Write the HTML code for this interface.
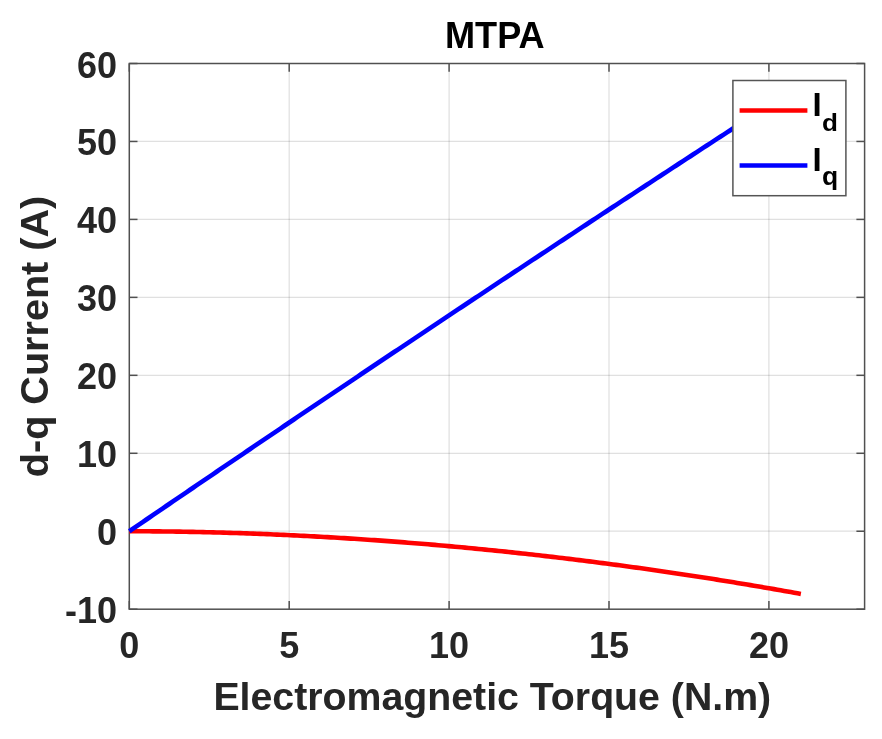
<!DOCTYPE html>
<html><head><meta charset="utf-8"><style>
html,body{margin:0;padding:0;background:#fff;}
svg{display:block;will-change:transform;}
text{font-family:"Liberation Sans", sans-serif;font-weight:bold;}
</style></head><body>
<svg width="882" height="739" viewBox="0 0 882 739">
<rect x="0" y="0" width="882" height="739" fill="#fff"/>

<g stroke="#262626" stroke-opacity="0.14" stroke-width="1.25"><line x1="289.20" y1="63.5" x2="289.20" y2="609.2"/><line x1="449.10" y1="63.5" x2="449.10" y2="609.2"/><line x1="609.00" y1="63.5" x2="609.00" y2="609.2"/><line x1="768.90" y1="63.5" x2="768.90" y2="609.2"/><line x1="129.3" y1="531.24" x2="864.6" y2="531.24"/><line x1="129.3" y1="453.29" x2="864.6" y2="453.29"/><line x1="129.3" y1="375.33" x2="864.6" y2="375.33"/><line x1="129.3" y1="297.37" x2="864.6" y2="297.37"/><line x1="129.3" y1="219.41" x2="864.6" y2="219.41"/><line x1="129.3" y1="141.46" x2="864.6" y2="141.46"/></g>
<g stroke="#505050" stroke-width="1.5" fill="none"><rect x="129.3" y="63.5" width="735.30" height="545.70" fill="none"/><line x1="129.30" y1="609.2" x2="129.30" y2="601.0"/><line x1="129.30" y1="63.5" x2="129.30" y2="71.7"/><line x1="289.20" y1="609.2" x2="289.20" y2="601.0"/><line x1="289.20" y1="63.5" x2="289.20" y2="71.7"/><line x1="449.10" y1="609.2" x2="449.10" y2="601.0"/><line x1="449.10" y1="63.5" x2="449.10" y2="71.7"/><line x1="609.00" y1="609.2" x2="609.00" y2="601.0"/><line x1="609.00" y1="63.5" x2="609.00" y2="71.7"/><line x1="768.90" y1="609.2" x2="768.90" y2="601.0"/><line x1="768.90" y1="63.5" x2="768.90" y2="71.7"/><line x1="129.3" y1="609.20" x2="137.5" y2="609.20"/><line x1="864.6" y1="609.20" x2="856.4" y2="609.20"/><line x1="129.3" y1="531.24" x2="137.5" y2="531.24"/><line x1="864.6" y1="531.24" x2="856.4" y2="531.24"/><line x1="129.3" y1="453.29" x2="137.5" y2="453.29"/><line x1="864.6" y1="453.29" x2="856.4" y2="453.29"/><line x1="129.3" y1="375.33" x2="137.5" y2="375.33"/><line x1="864.6" y1="375.33" x2="856.4" y2="375.33"/><line x1="129.3" y1="297.37" x2="137.5" y2="297.37"/><line x1="864.6" y1="297.37" x2="856.4" y2="297.37"/><line x1="129.3" y1="219.41" x2="137.5" y2="219.41"/><line x1="864.6" y1="219.41" x2="856.4" y2="219.41"/><line x1="129.3" y1="141.46" x2="137.5" y2="141.46"/><line x1="864.6" y1="141.46" x2="856.4" y2="141.46"/><line x1="129.3" y1="63.50" x2="137.5" y2="63.50"/><line x1="864.6" y1="63.50" x2="856.4" y2="63.50"/></g>
<polyline points="129.30,531.24 132.66,531.25 136.02,531.25 139.37,531.26 142.73,531.28 146.09,531.29 149.45,531.31 152.81,531.34 156.16,531.37 159.52,531.40 162.88,531.43 166.24,531.47 169.59,531.51 172.95,531.56 176.31,531.61 179.67,531.66 183.03,531.72 186.38,531.78 189.74,531.84 193.10,531.90 196.46,531.97 199.82,532.04 203.17,532.12 206.53,532.20 209.89,532.28 213.25,532.37 216.61,532.45 219.96,532.55 223.32,532.64 226.68,532.74 230.04,532.84 233.39,532.95 236.75,533.05 240.11,533.16 243.47,533.28 246.83,533.40 250.18,533.52 253.54,533.64 256.90,533.77 260.26,533.90 263.62,534.03 266.97,534.17 270.33,534.31 273.69,534.45 277.05,534.59 280.41,534.74 283.76,534.89 287.12,535.05 290.48,535.21 293.84,535.37 297.20,535.53 300.55,535.70 303.91,535.87 307.27,536.05 310.63,536.22 313.98,536.40 317.34,536.59 320.70,536.77 324.06,536.96 327.42,537.15 330.77,537.35 334.13,537.55 337.49,537.75 340.85,537.95 344.21,538.16 347.56,538.37 350.92,538.58 354.28,538.80 357.64,539.02 361.00,539.24 364.35,539.47 367.71,539.70 371.07,539.93 374.43,540.16 377.78,540.40 381.14,540.64 384.50,540.89 387.86,541.13 391.22,541.38 394.57,541.64 397.93,541.89 401.29,542.15 404.65,542.41 408.01,542.68 411.36,542.95 414.72,543.22 418.08,543.49 421.44,543.77 424.80,544.05 428.15,544.33 431.51,544.62 434.87,544.91 438.23,545.20 441.58,545.49 444.94,545.79 448.30,546.09 451.66,546.39 455.02,546.70 458.37,547.01 461.73,547.32 465.09,547.64 468.45,547.96 471.81,548.28 475.16,548.60 478.52,548.93 481.88,549.26 485.24,549.60 488.60,549.93 491.95,550.27 495.31,550.61 498.67,550.96 502.03,551.31 505.38,551.66 508.74,552.01 512.10,552.37 515.46,552.73 518.82,553.09 522.17,553.46 525.53,553.83 528.89,554.20 532.25,554.57 535.61,554.95 538.96,555.33 542.32,555.71 545.68,556.10 549.04,556.49 552.40,556.88 555.75,557.27 559.11,557.67 562.47,558.07 565.83,558.48 569.18,558.88 572.54,559.29 575.90,559.71 579.26,560.12 582.62,560.54 585.97,560.96 589.33,561.38 592.69,561.81 596.05,562.24 599.41,562.67 602.76,563.11 606.12,563.55 609.48,563.99 612.84,564.43 616.20,564.88 619.55,565.33 622.91,565.78 626.27,566.24 629.63,566.70 632.99,567.16 636.34,567.63 639.70,568.09 643.06,568.56 646.42,569.04 649.77,569.51 653.13,569.99 656.49,570.47 659.85,570.96 663.21,571.45 666.56,571.94 669.92,572.43 673.28,572.93 676.64,573.42 680.00,573.93 683.35,574.43 686.71,574.94 690.07,575.45 693.43,575.96 696.79,576.48 700.14,577.00 703.50,577.52 706.86,578.04 710.22,578.57 713.57,579.10 716.93,579.64 720.29,580.17 723.65,580.71 727.01,581.25 730.36,581.80 733.72,582.35 737.08,582.90 740.44,583.45 743.80,584.01 747.15,584.57 750.51,585.13 753.87,585.69 757.23,586.26 760.59,586.83 763.94,587.40 767.30,587.98 770.66,588.56 774.02,589.14 777.37,589.72 780.73,590.31 784.09,590.90 787.45,591.50 790.81,592.09 794.16,592.69 797.52,593.29 800.88,593.90" fill="none" stroke="#ff0000" stroke-width="4.6" stroke-linejoin="round"/>
<polyline points="129.30,531.24 132.66,528.95 136.02,526.65 139.37,524.36 142.73,522.06 146.09,519.77 149.45,517.48 152.81,515.18 156.16,512.89 159.52,510.60 162.88,508.31 166.24,506.02 169.59,503.73 172.95,501.44 176.31,499.16 179.67,496.87 183.03,494.58 186.38,492.30 189.74,490.01 193.10,487.73 196.46,485.44 199.82,483.16 203.17,480.88 206.53,478.59 209.89,476.31 213.25,474.03 216.61,471.75 219.96,469.47 223.32,467.19 226.68,464.91 230.04,462.64 233.39,460.36 236.75,458.08 240.11,455.81 243.47,453.53 246.83,451.25 250.18,448.98 253.54,446.71 256.90,444.43 260.26,442.16 263.62,439.89 266.97,437.62 270.33,435.35 273.69,433.08 277.05,430.81 280.41,428.54 283.76,426.27 287.12,424.01 290.48,421.74 293.84,419.47 297.20,417.21 300.55,414.94 303.91,412.68 307.27,410.42 310.63,408.15 313.98,405.89 317.34,403.63 320.70,401.37 324.06,399.11 327.42,396.85 330.77,394.59 334.13,392.33 337.49,390.07 340.85,387.81 344.21,385.56 347.56,383.30 350.92,381.05 354.28,378.79 357.64,376.54 361.00,374.28 364.35,372.03 367.71,369.78 371.07,367.53 374.43,365.28 377.78,363.03 381.14,360.78 384.50,358.53 387.86,356.28 391.22,354.03 394.57,351.78 397.93,349.54 401.29,347.29 404.65,345.04 408.01,342.80 411.36,340.56 414.72,338.31 418.08,336.07 421.44,333.83 424.80,331.58 428.15,329.34 431.51,327.10 434.87,324.86 438.23,322.62 441.58,320.39 444.94,318.15 448.30,315.91 451.66,313.67 455.02,311.44 458.37,309.20 461.73,306.97 465.09,304.73 468.45,302.50 471.81,300.27 475.16,298.03 478.52,295.80 481.88,293.57 485.24,291.34 488.60,289.11 491.95,286.88 495.31,284.65 498.67,282.42 502.03,280.20 505.38,277.97 508.74,275.74 512.10,273.52 515.46,271.29 518.82,269.07 522.17,266.85 525.53,264.62 528.89,262.40 532.25,260.18 535.61,257.96 538.96,255.74 542.32,253.52 545.68,251.30 549.04,249.08 552.40,246.86 555.75,244.64 559.11,242.43 562.47,240.21 565.83,237.99 569.18,235.78 572.54,233.57 575.90,231.35 579.26,229.14 582.62,226.93 585.97,224.71 589.33,222.50 592.69,220.29 596.05,218.08 599.41,215.87 602.76,213.67 606.12,211.46 609.48,209.25 612.84,207.04 616.20,204.84 619.55,202.63 622.91,200.43 626.27,198.22 629.63,196.02 632.99,193.82 636.34,191.61 639.70,189.41 643.06,187.21 646.42,185.01 649.77,182.81 653.13,180.61 656.49,178.41 659.85,176.21 663.21,174.02 666.56,171.82 669.92,169.62 673.28,167.43 676.64,165.23 680.00,163.04 683.35,160.84 686.71,158.65 690.07,156.46 693.43,154.27 696.79,152.08 700.14,149.88 703.50,147.69 706.86,145.51 710.22,143.32 713.57,141.13 716.93,138.94 720.29,136.75 723.65,134.57 727.01,132.38 730.36,130.20 733.72,128.01 737.08,125.83 740.44,123.65 743.80,121.46 747.15,119.28 750.51,117.10 753.87,114.92 757.23,112.74 760.59,110.56 763.94,108.38 767.30,106.20 770.66,104.03 774.02,101.85 777.37,99.67 780.73,97.50 784.09,95.32 787.45,93.15 790.81,90.97 794.16,88.80 797.52,86.63 800.88,84.46" fill="none" stroke="#0000ff" stroke-width="4.6" stroke-linejoin="round"/>
<g fill="#262626" font-size="36"><text x="117" y="623.20" text-anchor="end">-10</text><text x="117" y="545.24" text-anchor="end">0</text><text x="117" y="467.29" text-anchor="end">10</text><text x="117" y="389.33" text-anchor="end">20</text><text x="117" y="311.37" text-anchor="end">30</text><text x="117" y="233.41" text-anchor="end">40</text><text x="117" y="155.46" text-anchor="end">50</text><text x="117" y="77.50" text-anchor="end">60</text><text x="129.30" y="658" text-anchor="middle">0</text><text x="289.20" y="658" text-anchor="middle">5</text><text x="449.10" y="658" text-anchor="middle">10</text><text x="609.00" y="658" text-anchor="middle">15</text><text x="768.90" y="658" text-anchor="middle">20</text></g>
<text x="492.3" y="709.5" text-anchor="middle" font-size="39.27" fill="#262626">Electromagnetic Torque (N.m)</text>
<text transform="translate(47.9,336.5) rotate(-90)" x="0" y="0" text-anchor="middle" font-size="39.6" fill="#262626">d-q Current (A)</text>
<text transform="translate(494.85,48.0) scale(0.972,1)" x="0" y="0" text-anchor="middle" font-size="37.2" fill="#000">MTPA</text>
<rect x="732.9" y="80.5" width="113" height="115.2" fill="#fff" stroke="#555" stroke-width="1.5"/>
<line x1="739.6" y1="110.5" x2="807.4" y2="110.5" stroke="#ff0000" stroke-width="4.5"/>
<line x1="739.6" y1="165.4" x2="807.4" y2="165.4" stroke="#0000ff" stroke-width="4.5"/>
<text x="812.5" y="115.7" font-size="33" fill="#000">I</text><text transform="translate(821.9,131.4) scale(1.06,1)" font-size="24.6" fill="#000">d</text>
<text x="812.5" y="171" font-size="33" fill="#000">I</text><text transform="translate(822,184.8) scale(1.06,1)" font-size="25" fill="#000">q</text>
</svg></body></html>
